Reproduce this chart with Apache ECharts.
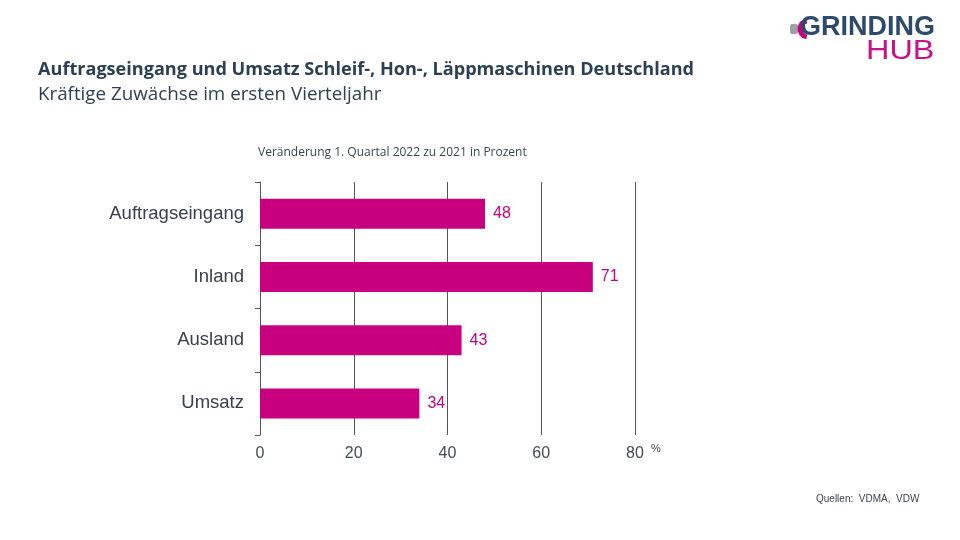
<!DOCTYPE html>
<html><head><meta charset="utf-8">
<script src="https://cdn.jsdelivr.net/npm/echarts@6/dist/echarts.min.js"></script>
<style>html,body{margin:0;padding:0;background:#fff}#c{width:960px;height:540px}</style>
</head><body><div id="c"></div>
<script>
const categories = ['Auftragseingang', 'Inland', 'Ausland', 'Umsatz'];
const values = [48, 71, 43, 34];
const xTicks = [0, 20, 40, 60, 80];

const chart = echarts.init(document.getElementById('c'));
const magenta = '#C8007F';
chart.setOption({
  animation: false,
  backgroundColor: '#fff',
  grid: { left: 260, right: 325, top: 182, bottom: 105 },
  xAxis: {
    type: 'value', min: 0, max: 80, interval: 20,
    axisLine: { show: false }, axisTick: { show: false },
    splitLine: { show: true, lineStyle: { color: '#555', width: 1 } },
    axisLabel: { color: '#404a55', fontSize: 16, fontFamily: 'Liberation Sans, Arial', margin: 11,
      formatter: v => xTicks.includes(v) ? String(v) : '' }
  },
  yAxis: {
    type: 'category', data: categories, inverse: true,
    axisLine: { show: true, lineStyle: { color: '#555', width: 1 } },
    axisTick: { show: true, length: 5, lineStyle: { color: '#555' } },
    axisLabel: { color: '#36414d', fontSize: 18.5, fontFamily: 'Liberation Sans, Arial', margin: 16 }
  },
  series: [{
    type: 'bar', data: values, barWidth: 30,
    itemStyle: { color: magenta },
    label: { show: true, position: 'right', distance: 8, color: magenta, fontSize: 16, fontFamily: 'Liberation Sans, Arial' }
  }],
  graphic: [
    { type: 'text', left: 38, top: 61, style: { text: 'Auftragseingang und Umsatz Schleif-, Hon-, Läppmaschinen Deutschland', fill: '#2b3f55', font: 'bold 18.1px "Open Sans", sans-serif' } },
    { type: 'text', left: 38, top: 85, style: { text: 'Kräftige Zuwächse im ersten Vierteljahr', fill: '#2b3f55', font: '18.8px "Open Sans", sans-serif' } },
    { type: 'text', left: 258, top: 147, style: { text: 'Veränderung 1. Quartal 2022 zu 2021 in Prozent', fill: '#3a4550', font: '12px "Open Sans", sans-serif' } },
    { type: 'text', left: 651, top: 443, style: { text: '%', fill: '#404040', font: '11px "Liberation Sans", Arial' } },
    { type: 'text', left: 816, top: 494, style: { text: 'Quellen:  VDMA,  VDW', fill: '#3a4550', font: '10px "Liberation Sans", Arial' } },
    { type: 'rect', shape: { x: 790, y: 24, width: 8, height: 10, r: 2 }, style: { fill: '#a0a0a0' } },
    { type: 'arc', shape: { cx: 808, cy: 29, r: 8, startAngle: Math.PI * 0.55, endAngle: Math.PI * 1.45 }, style: { stroke: magenta, lineWidth: 5, fill: null } },
    { type: 'text', left: 800, top: 14, style: { text: 'GRINDING', fill: '#2d4a6b', font: 'bold 27px "Liberation Sans", Arial' } },
    { type: 'text', left: 866, top: 38, scaleX: 1.2, style: { text: 'HUB', fill: '#c8118a', font: '27px "Liberation Sans", Arial' } }
  ]
});
</script></body></html>
